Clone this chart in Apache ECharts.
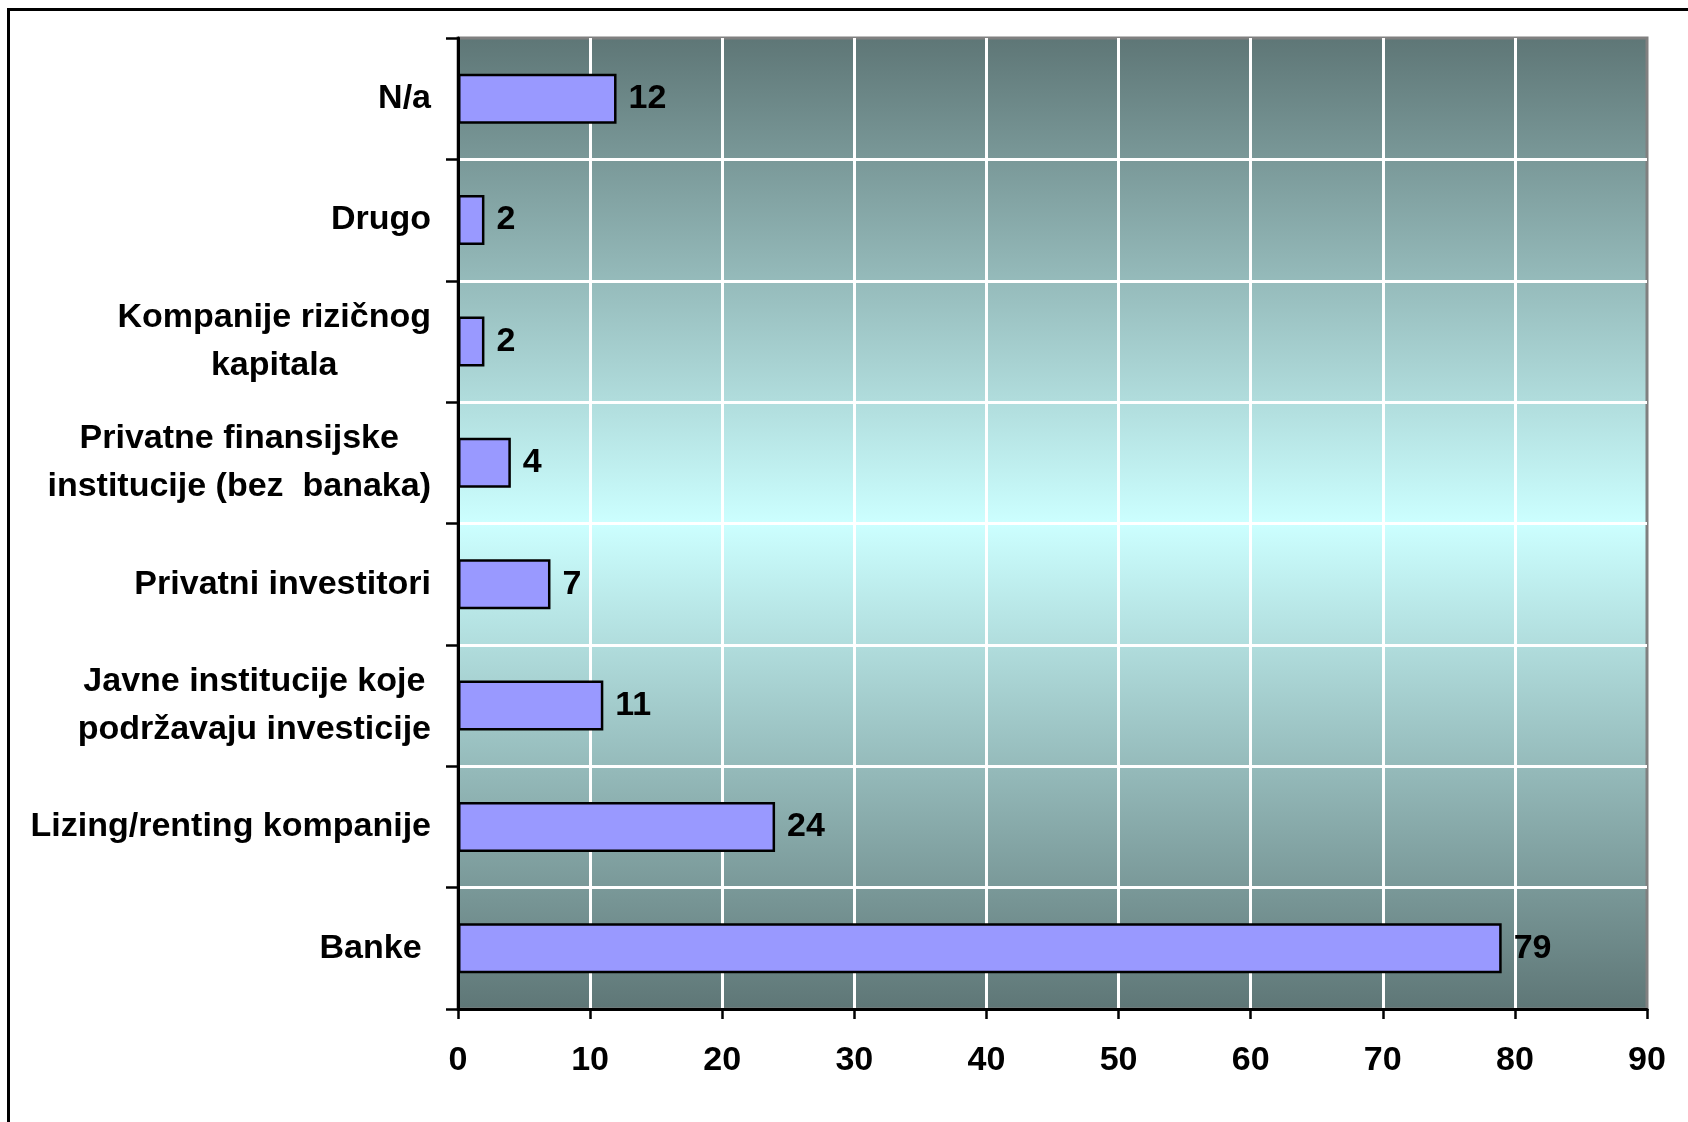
<!DOCTYPE html>
<html>
<head>
<meta charset="utf-8">
<title>Izvori finansiranja</title>
<script src="https://cdn.jsdelivr.net/npm/echarts@6/dist/echarts.min.js"></script>
<style>
  html, body { margin: 0; padding: 0; background: #fff; }
  #main { width: 1688px; height: 1122px; }
</style>
</head>
<body>
<div id="main"></div>
<script>
// kategorije, odozdo prema gore
var categories = [
  'Banke ',
  'Lizing/renting kompanije',
  'Javne institucije koje\npodržavaju investicije',
  'Privatni investitori',
  'Privatne finansijske\ninstitucije (bez  banaka)',
  'Kompanije rizičnog\nkapitala',
  'Drugo',
  'N/a'
];
var values = [79, 24, 11, 7, 4, 2, 2, 12];
var xTicks = [0, 10, 20, 30, 40, 50, 60, 70, 80, 90];

var font = "'Liberation Sans', Arial, sans-serif";
var fs = 34;

var myChart = echarts.init(document.getElementById('main'));
var option = {
  backgroundColor: '#fff',
  animation: false,
  textStyle: { fontFamily: font },
  // okvir oko grafikona (vidi se samo lijevo i gore)
  graphic: [{
    type: 'rect',
    shape: { x: 8.5, y: 9.5, width: 1800, height: 1300 },
    style: { fill: null, stroke: '#000', lineWidth: 3 },
    silent: true
  }],
  grid: {
    left: 458,
    right: 41,
    top: 38,
    bottom: 113,
    outerBoundsMode: 'none',
    containLabel: false,
    show: true,
    borderColor: '#808080',
    borderWidth: 3,
    backgroundColor: new echarts.graphic.LinearGradient(0, 0, 0, 1, [
      { offset: 0, color: '#5e7676' },
      { offset: 0.5, color: '#ccffff' },
      { offset: 1, color: '#5e7676' }
    ])
  },
  xAxis: {
    type: 'value',
    min: xTicks[0],
    max: xTicks[xTicks.length - 1],
    interval: 10,
    axisLine: { show: true, lineStyle: { color: '#000', width: 3 } },
    axisTick: { show: true, length: 10, lineStyle: { color: '#000', width: 2.5 } },
    axisLabel: {
      margin: 35,
      color: '#000',
      fontFamily: font,
      fontWeight: 'bold',
      fontSize: fs
    },
    splitLine: { show: true, showMaxLine: false, lineStyle: { color: '#fff', width: 3 } }
  },
  yAxis: {
    type: 'category',
    data: categories,
    axisLine: { show: true, lineStyle: { color: '#000', width: 3 } },
    axisTick: { show: true, length: 12, lineStyle: { color: '#000', width: 2.5 } },
    axisLabel: {
      margin: 27,
      color: '#000',
      fontFamily: font,
      fontWeight: 'bold',
      fontSize: fs,
      lineHeight: 48,
      formatter: function (v) {
        return v.split('\n').map(function (s) { return '{c|' + s + '}'; }).join('\n');
      },
      rich: {
        c: {
          align: 'center',
          color: '#000',
          fontFamily: font,
          fontWeight: 'bold',
          fontSize: fs,
          lineHeight: 48
        }
      }
    },
    splitLine: { show: true, showMaxLine: false, lineStyle: { color: '#fff', width: 3 } }
  },
  series: [{
    type: 'bar',
    data: values,
    barWidth: 50,
    itemStyle: { color: '#9999ff', borderColor: '#000', borderWidth: 2.5 },
    label: {
      show: true,
      position: 'right',
      distance: 12,
      color: '#000',
      fontFamily: font,
      fontWeight: 'bold',
      fontSize: fs
    }
  }]
};
myChart.setOption(option);
</script>
</body>
</html>
